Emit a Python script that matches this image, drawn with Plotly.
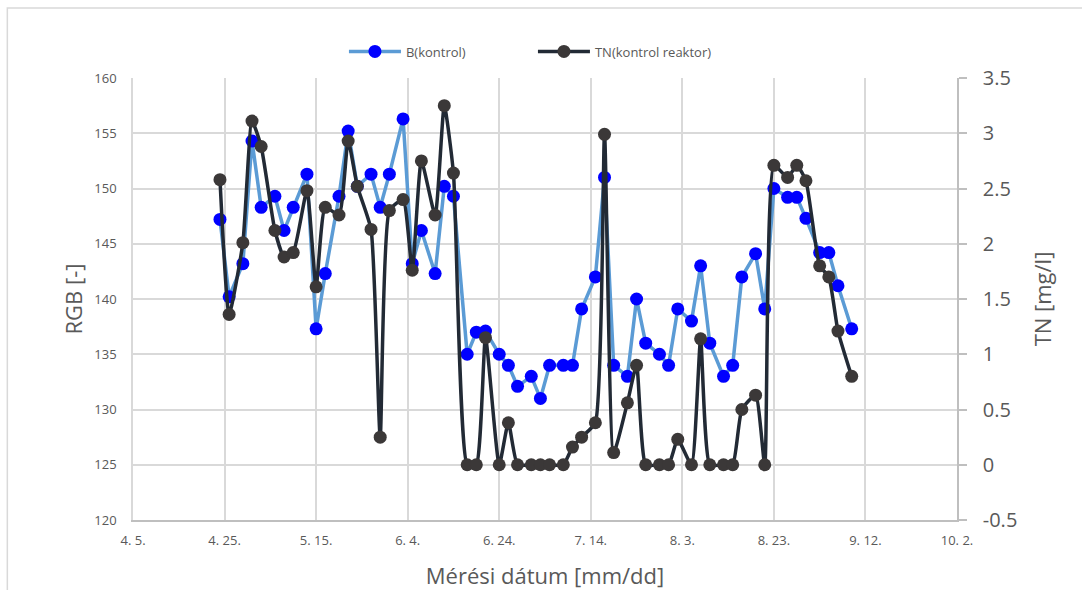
import plotly.graph_objects as go
from datetime import date, timedelta

# Measurement dates (month, day), 2019 season
meas_dates = [
    "2019-04-24", "2019-04-26", "2019-04-29", "2019-05-01", "2019-05-03",
    "2019-05-06", "2019-05-08", "2019-05-10", "2019-05-13", "2019-05-15",
    "2019-05-17", "2019-05-20", "2019-05-22", "2019-05-24", "2019-05-27",
    "2019-05-29", "2019-05-31", "2019-06-03", "2019-06-05", "2019-06-07",
    "2019-06-10", "2019-06-12", "2019-06-14", "2019-06-17", "2019-06-19",
    "2019-06-21", "2019-06-24", "2019-06-26", "2019-06-28", "2019-07-01",
    "2019-07-03", "2019-07-05", "2019-07-08", "2019-07-10", "2019-07-12",
    "2019-07-15", "2019-07-17", "2019-07-19", "2019-07-22", "2019-07-24",
    "2019-07-26", "2019-07-29", "2019-07-31", "2019-08-02", "2019-08-05",
    "2019-08-07", "2019-08-09", "2019-08-12", "2019-08-14", "2019-08-16",
    "2019-08-19", "2019-08-21", "2019-08-23", "2019-08-26", "2019-08-28",
    "2019-08-30", "2019-09-02", "2019-09-04", "2019-09-06", "2019-09-09",
]

# B channel of the control sample (RGB value)
b_kontrol = [
    147.2, 140.2, 143.2, 154.3, 148.3, 149.3, 146.2, 148.3, 151.3, 137.3,
    142.3, 149.3, 155.2, 150.2, 151.3, 148.3, 151.3, 156.3, 143.2, 146.2,
    142.3, 150.2, 149.3, 135.0, 137.0, 137.1, 135.0, 134.0, 132.1, 133.0,
    131.0, 134.0, 134.0, 134.0, 139.1, 142.0, 151.0, 134.0, 133.0, 140.0,
    136.0, 135.0, 134.0, 139.1, 138.0, 143.0, 136.0, 133.0, 134.0, 142.0,
    144.1, 139.1, 150.0, 149.2, 149.2, 147.3, 144.2, 144.2, 141.2, 137.3,
]

# Total nitrogen in the control reactor [mg/l]
tn_kontrol = [
    2.58, 1.36, 2.01, 3.11, 2.88, 2.12, 1.88, 1.92, 2.48, 1.61,
    2.33, 2.26, 2.93, 2.52, 2.13, 0.25, 2.30, 2.40, 1.76, 2.75,
    2.26, 3.25, 2.64, 0.0, 0.0, 1.15, 0.0, 0.38, 0.0, 0.0,
    0.0, 0.0, 0.0, 0.16, 0.25, 0.38, 2.99, 0.11, 0.56, 0.90,
    0.0, 0.0, 0.0, 0.23, 0.0, 1.14, 0.0, 0.0, 0.0, 0.50,
    0.63, 0.0, 2.71, 2.60, 2.71, 2.57, 1.80, 1.70, 1.21, 0.80,
]

# X-axis ticks every 20 days from April 5
x_start = date(2019, 4, 5)
x_tick_vals = [(x_start + timedelta(days=20 * i)).isoformat() for i in range(10)]
x_tick_text = ["4. 5.", "4. 25.", "5. 15.", "6. 4.", "6. 24.",
               "7. 14.", "8. 3.", "8. 23.", "9. 12.", "10. 2."]

tn_tick_vals = [-0.5, 0, 0.5, 1, 1.5, 2, 2.5, 3, 3.5]
tn_tick_text = ["-0.5", "0", "0.5", "1", "1.5", "2", "2.5", "3", "3.5"]

FONT = "Open Sans"
TXT = "#595959"
GRID = "#D9D9D9"

fig = go.Figure()

fig.add_trace(go.Scatter(
    x=meas_dates, y=b_kontrol, name="B(kontrol)", mode="lines+markers",
    line=dict(color="#5B9BD5", width=3.5),
    marker=dict(color="#0000FF", size=13),
    yaxis="y",
))

fig.add_trace(go.Scatter(
    x=meas_dates, y=tn_kontrol, name="TN(kontrol reaktor)", mode="lines+markers",
    line=dict(color="#222A35", width=3.5, shape="spline", smoothing=0.5),
    marker=dict(color="#3B3838", size=13),
    yaxis="y2",
))

fig.update_layout(
    width=1082, height=590,
    margin=dict(l=133, r=125, t=78, b=70),
    paper_bgcolor="white", plot_bgcolor="white",
    font=dict(family=FONT, color=TXT),
    showlegend=True,
    legend=dict(
        orientation="h", x=0.256, xanchor="left", y=1.06, yanchor="middle",
        font=dict(size=13, color=TXT), itemwidth=52,
        entrywidth=122, entrywidthmode="pixels",
        bgcolor="rgba(0,0,0,0)",
    ),
    xaxis=dict(
        type="date", range=[x_tick_vals[0], x_tick_vals[-1]],
        tickvals=x_tick_vals, ticktext=x_tick_text,
        showgrid=True, gridcolor=GRID, gridwidth=1.5,
        showline=True, linecolor="#BFBFBF", linewidth=1.5,
        ticks="outside", ticklen=8, tickcolor="rgba(0,0,0,0)",
        tickfont=dict(size=13, color=TXT),
        zeroline=False, automargin=False,
        title=dict(text="Mérési dátum [mm/dd]", font=dict(size=22, color=TXT), standoff=20),
    ),
    yaxis=dict(
        range=[120, 160], tick0=120, dtick=5,
        showgrid=True, gridcolor=GRID, gridwidth=1.5,
        showline=True, linecolor=GRID, linewidth=1.5,
        ticks="outside", ticklen=12, tickcolor="rgba(0,0,0,0)",
        tickfont=dict(size=13, color=TXT),
        zeroline=False,
        title=dict(text="RGB [-]", font=dict(size=22, color=TXT), standoff=6),
    ),
    yaxis2=dict(
        overlaying="y", side="right", anchor="x",
        range=[-0.5, 3.5], tickvals=tn_tick_vals, ticktext=tn_tick_text,
        showgrid=False, zeroline=False,
        showline=True, linecolor="#BFBFBF", linewidth=1.5,
        ticks="outside", ticklen=8, tickcolor="#BFBFBF", tickwidth=1.5,
        tickfont=dict(size=20, color=TXT),
        ticklabelstandoff=12,
        title=dict(text="TN [mg/l]", font=dict(size=22, color=TXT), standoff=19),
    ),
    shapes=[dict(
        type="rect", xref="paper", yref="paper",
        x0=-0.1525, x1=1.25, y0=-0.2, y1=1.1584,
        line=dict(color=GRID, width=1.5), fillcolor="rgba(0,0,0,0)", layer="below",
    )],
)

fig.write_html("out.html")
